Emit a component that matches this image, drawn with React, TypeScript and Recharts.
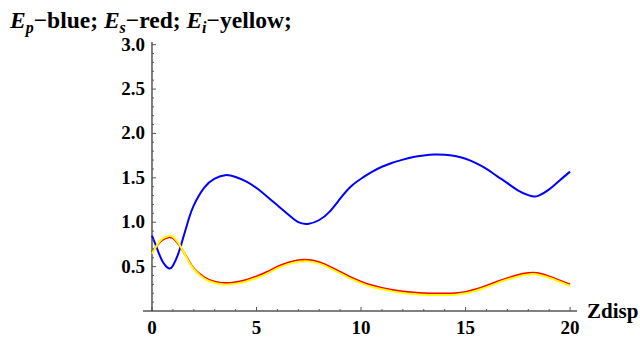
import { LineChart, Line, XAxis, YAxis, ReferenceLine } from "recharts";

// z positions shared by all three curves
const zs = [
  0, 0.25, 0.5, 0.8, 1, 1.25, 1.5, 1.75, 2, 2.5, 3, 3.5, 4, 4.5, 5, 5.5, 6, 6.5, 7, 7.5, 8, 8.5, 9,
  9.5, 10, 10.5, 11, 11.5, 12, 12.5, 13, 13.5, 14, 14.5, 15, 15.5, 16, 16.5, 17, 17.5, 18, 18.25, 18.5,
  19, 19.5, 20,
];

const ep = [
  0.85, 0.7, 0.56, 0.48, 0.51, 0.64, 0.83, 1.03, 1.19, 1.39, 1.49, 1.53, 1.51, 1.46, 1.385, 1.29, 1.19, 1.09,
  1.0, 0.983, 1.025, 1.12, 1.265, 1.4, 1.49, 1.565, 1.625, 1.67, 1.705, 1.735, 1.752, 1.762, 1.76, 1.745,
  1.715, 1.665, 1.6, 1.52, 1.44, 1.36, 1.305, 1.29, 1.3, 1.37, 1.47, 1.57,
];

const es = [
  0.66, 0.74, 0.8, 0.83, 0.82, 0.76, 0.67, 0.57, 0.48, 0.38, 0.33, 0.315, 0.325, 0.35, 0.39, 0.44, 0.5,
  0.545, 0.573, 0.575, 0.55, 0.5, 0.44, 0.38, 0.33, 0.29, 0.26, 0.237, 0.22, 0.208, 0.199, 0.196,
  0.196, 0.2, 0.215, 0.245, 0.285, 0.33, 0.37, 0.405, 0.428, 0.432, 0.425, 0.39, 0.345, 0.3,
];

const ei = [
  0.645, 0.745, 0.815, 0.845, 0.835, 0.77, 0.67, 0.56, 0.47, 0.365, 0.315, 0.298, 0.307, 0.333, 0.372,
  0.422, 0.482, 0.528, 0.556, 0.559, 0.534, 0.484, 0.424, 0.364, 0.314, 0.274, 0.244, 0.221, 0.204,
  0.192, 0.183, 0.18, 0.18, 0.184, 0.199, 0.229, 0.269, 0.314, 0.354, 0.389, 0.412, 0.416, 0.409, 0.374,
  0.329, 0.284,
];

const xTicks = [0, 1, 2, 3, 4, 5, 6, 7, 8, 9, 10, 11, 12, 13, 14, 15, 16, 17, 18, 19, 20];
const yTicks = [
  0, 0.1, 0.2, 0.3, 0.4, 0.5, 0.6, 0.7, 0.8, 0.9, 1, 1.1, 1.2, 1.3, 1.4, 1.5, 1.6, 1.7, 1.8, 1.9, 2, 2.1,
  2.2, 2.3, 2.4, 2.5, 2.6, 2.7, 2.8, 2.9, 3,
];

const data = zs.map((z, i) => ({ z, ep: ep[i], es: es[i], ei: ei[i] }));

const FONT = "'Liberation Serif', 'Times New Roman', serif";
const AXIS_OFFSET = 9; // y axis sits at z=0, a little right of the plot's left edge

const isMajor = (v: number) => Math.abs(v * 2 - Math.round(v * 2)) < 1e-6;

function XTick(props: any) {
  const { x, y, payload } = props;
  const v = payload.value;
  const major = v % 5 === 0;
  return (
    <g>
      <line x1={x} x2={x} y1={y} y2={y - (major ? 4 : 2)} stroke="#555" />
      {major && (
        <text x={x} y={y + 23} textAnchor="middle" fontFamily={FONT} fontWeight="bold" fontSize={19} fill="#000">
          {v}
        </text>
      )}
    </g>
  );
}

function YTick(props: any) {
  const { x, y, payload } = props;
  const v = payload.value;
  const ax = x + AXIS_OFFSET;
  const major = isMajor(v);
  if (v === 0) return <g />;
  return (
    <g>
      <line x1={ax} x2={ax + (major ? 4 : 2)} y1={y} y2={y} stroke="#555" />
      {major && (
        <text x={ax - 7} y={y + 6} textAnchor="end" fontFamily={FONT} fontWeight="bold" fontSize={19} fill="#000">
          {v.toFixed(1)}
        </text>
      )}
    </g>
  );
}

export default function App() {
  return (
    <div style={{ position: "absolute", left: 0, top: 0, width: 640, height: 337, background: "#fff" }}>
      <LineChart width={640} height={337} data={data} margin={{ top: 42, right: 63, bottom: 0, left: 0 }}>
        <XAxis
          type="number"
          dataKey="z"
          domain={[-0.43, 20.33]}
          ticks={xTicks}
          interval={0}
          height={26}
          tickSize={0}
          tickMargin={0}
          tickLine={false}
          axisLine={{ stroke: "#000" }}
          tick={<XTick />}
          allowDataOverflow
        />
        <YAxis
          type="number"
          domain={[0, 3.03]}
          ticks={yTicks}
          interval={0}
          width={143}
          tickSize={0}
          tickMargin={0}
          tickLine={false}
          axisLine={false}
          tick={<YTick />}
          allowDataOverflow
        />
        <ReferenceLine x={0} stroke="#000" />
        <Line type="natural" dataKey="ep" stroke="#0000ff" strokeWidth={2} dot={false} isAnimationActive={false} />
        <Line type="natural" dataKey="es" stroke="#ff0000" strokeWidth={2} dot={false} isAnimationActive={false} />
        <Line type="natural" dataKey="ei" stroke="#ffff00" strokeWidth={2} dot={false} isAnimationActive={false} />
      </LineChart>
      <svg width={640} height={337} style={{ position: "absolute", left: 0, top: 0, pointerEvents: "none" }}>
        <text x={10} y={28} fontFamily={FONT} fontWeight="bold" fontSize={23.5} fill="#000">
          <tspan fontStyle="italic">E</tspan>
          <tspan fontStyle="italic" fontSize={16} dy={5}>p</tspan>
          <tspan dy={-5}>{"\u2212blue; "}</tspan>
          <tspan fontStyle="italic">E</tspan>
          <tspan fontStyle="italic" fontSize={16} dy={5}>s</tspan>
          <tspan dy={-5}>{"\u2212red; "}</tspan>
          <tspan fontStyle="italic">E</tspan>
          <tspan fontStyle="italic" fontSize={16} dy={5}>i</tspan>
          <tspan dy={-5}>{"\u2212yellow;"}</tspan>
        </text>
        <text x={587} y={318} fontFamily={FONT} fontWeight="bold" fontSize={21} fill="#000">
          Zdisp
        </text>
      </svg>
    </div>
  );
}
